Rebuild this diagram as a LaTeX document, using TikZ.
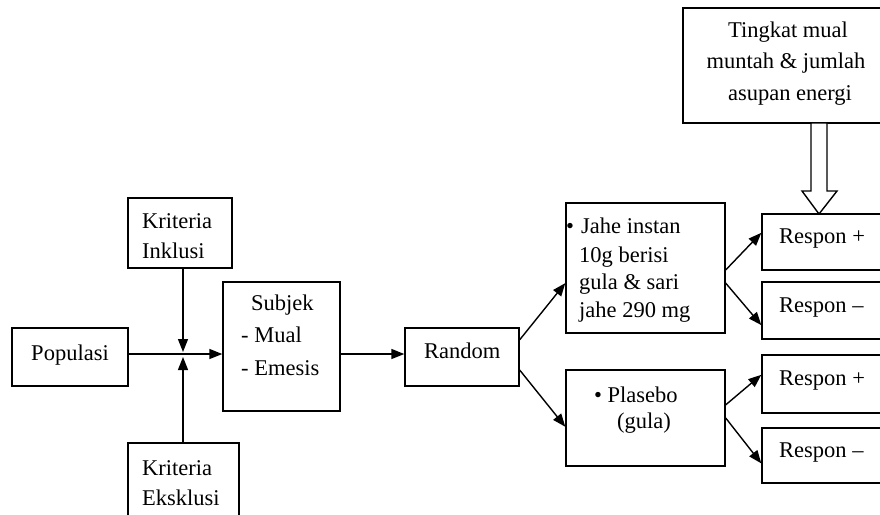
\documentclass[tikz,border=0pt]{standalone}
\usepackage{fontspec}
\setmainfont{Liberation Serif}
\usetikzlibrary{arrows.meta,calc}
\begin{document}
\begin{tikzpicture}[x=1pt,y=-1pt,
  box/.style={draw, line width=1.4pt, rectangle, inner sep=0pt},
  arr/.style={line width=1.4pt, -{Triangle[length=13pt,width=10pt]}},
  txt/.style={inner sep=0pt, anchor=base west, font=\fontsize{22.5}{28}\selectfont},
  ctxt/.style={inner sep=0pt, anchor=base, font=\fontsize{22.5}{28}\selectfont},
]
\useasboundingbox (0,0) rectangle (880,514);
\clip (0,0) rectangle (880,514);
% boxes
\node[box, minimum width=116, minimum height=58] (pop) at (70,357) {};
\node[box, minimum width=104, minimum height=70] (inkl) at (180,233) {};
\node[box, minimum width=111, minimum height=87] (eksk) at (183.5,486.5) {};
\node[box, minimum width=117, minimum height=129] (subj) at (281.5,346.5) {};
\node[box, minimum width=114, minimum height=58] (rand) at (462,357) {};
\node[box, minimum width=159, minimum height=130] (jahe) at (645.5,268) {};
\node[box, minimum width=159, minimum height=96] (plas) at (645.5,418) {};
\node[box, minimum width=210, minimum height=115] (ting) at (788,65.5) {};
\node[box, minimum width=138, minimum height=56] (rp1) at (831,242) {};
\node[box, minimum width=138, minimum height=57] (rm1) at (831,310.5) {};
\node[box, minimum width=138, minimum height=58] (rp2) at (831,384) {};
\node[box, minimum width=138, minimum height=55] (rm2) at (831,455.5) {};
% texts
\node[ctxt] (popT) at (70,360) {Populasi};
\node[txt] (inklA) at (142,228) {Kriteria};
\node[txt] (inklB) at (142,258) {Inklusi};
\node[txt] (ekskA) at (142,475) {Kriteria};
\node[txt] (ekskB) at (142,505) {Eksklusi};
\node[txt] (subjA) at (251,310) {Subjek};
\node[txt] (subjB) at (241,342) {- Mual};
\node[txt] (subjC) at (241,375) {- Emesis};
\node[txt] (randT) at (424,358) {Random};
\node[txt] (jaheBul) at (566,233) {•};
\node[txt] (jaheA) at (581,233) {Jahe instan};
\node[txt] (jaheB) at (579,262) {10g berisi};
\node[txt] (jaheC) at (579,289) {gula \& sari};
\node[txt] (jaheD) at (579,317) {jahe 290 mg};
\node[txt] (plasA) at (594,402) {• Plasebo};
\node[txt] (plasB) at (617,428) {(gula)};
\node[ctxt] (tingA) at (788,37) {Tingkat mual};
\node[ctxt] (tingB) at (786,68) {muntah \& jumlah};
\node[ctxt] (tingC) at (790,100) {asupan energi};
\node[txt] (rp1T) at (779,243) {Respon +};
\node[txt] (rm1T) at (779,312) {Respon –};
\node[txt] (rp2T) at (779,385) {Respon +};
\node[txt] (rm2T) at (779,457) {Respon –};
% connectors
\coordinate (J) at (183,354);
\draw[arr] (pop.east |- J) -- (subj.west |- J);
\draw[arr] (J |- inkl.south) -- ($(J)+(0,-2)$);
\draw[arr] (J |- eksk.north) -- ($(J)+(0,3)$);
\draw[arr] (subj.east |- J) -- (rand.west |- J);
\draw[arr] ($(rand.north east)!0.21!(rand.south east)$) -- ($(jahe.north west)!0.615!(jahe.south west)$);
\draw[arr] ($(rand.north east)!0.72!(rand.south east)$) -- ($(plas.north west)!0.59!(plas.south west)$);
\draw[arr] ($(jahe.north east)!0.515!(jahe.south east)$) -- ($(rp1.north west)!0.34!(rp1.south west)$);
\draw[arr] ($(jahe.north east)!0.615!(jahe.south east)$) -- ($(rm1.north west)!0.75!(rm1.south west)$);
\draw[arr] ($(plas.north east)!0.365!(plas.south east)$) -- ($(rp2.north west)!0.345!(rp2.south west)$);
\draw[arr] ($(plas.north east)!0.5!(plas.south east)$) -- ($(rm2.north west)!0.64!(rm2.south west)$);
% hollow arrow
\coordinate (ha) at (819,123);
\coordinate (hb) at (819,214);
\draw[line width=1.4pt, fill=white, line join=miter]
  ($(ha)+(-8,0)$) -- ($(ha)+(8,0)$) -- ($(hb)+(8,-23)$) -- ($(hb)+(18,-23)$) -- (hb)
  -- ($(hb)+(-17,-23)$) -- ($(hb)+(-8,-23)$) -- cycle;
\end{tikzpicture}
\end{document}
